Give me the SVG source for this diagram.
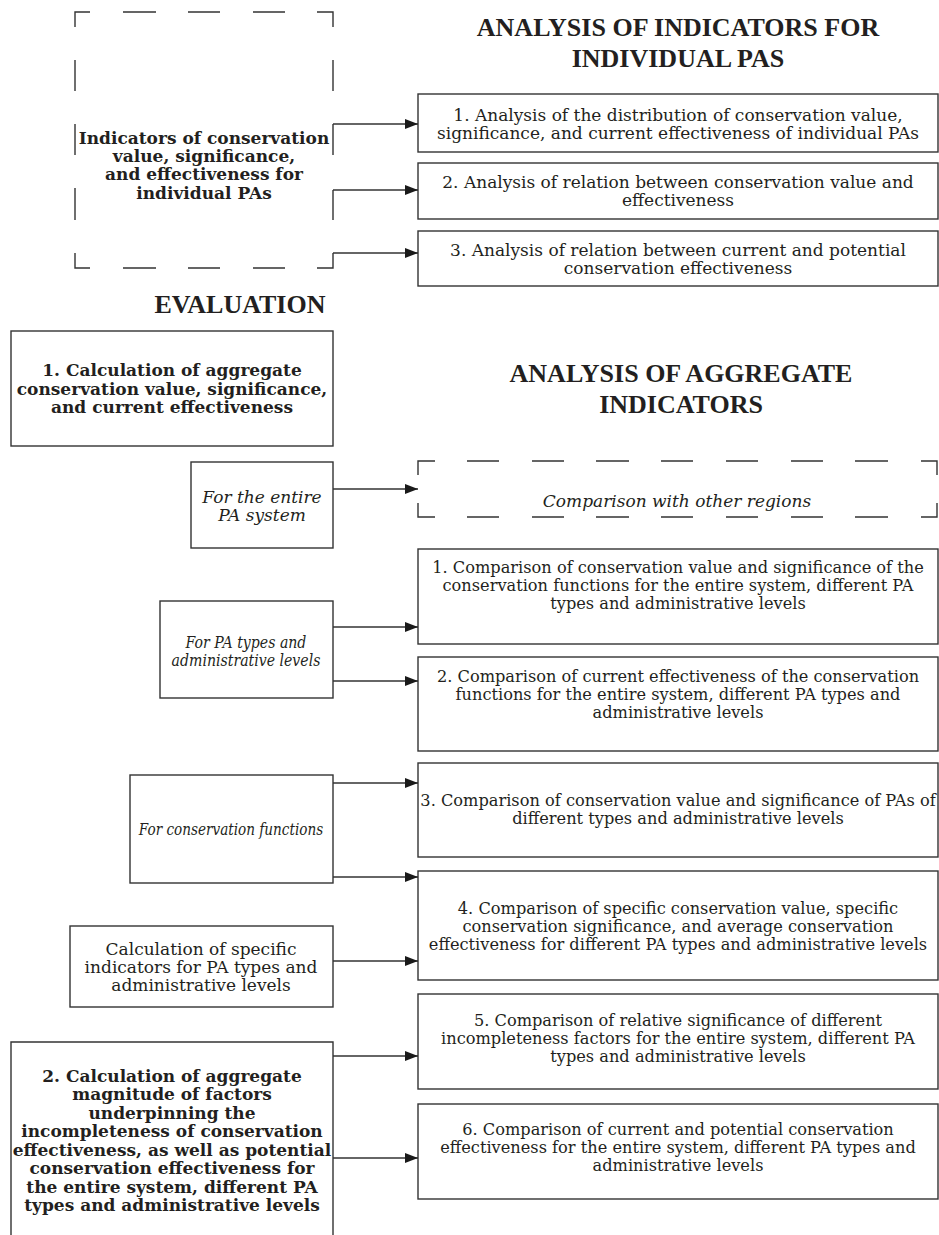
<svg xmlns="http://www.w3.org/2000/svg" width="939" height="1235" viewBox="0 0 939 1235">
  <style>
    .box { fill: #ffffff; stroke: #333333; stroke-width: 1.4; }
    .dash { fill: none; stroke: #333333; stroke-width: 1.4; }
    .edge { fill: none; stroke: #333333; stroke-width: 1.4; marker-end: url(#arrow); }
    text { fill: #231f20; text-anchor: middle; }
    .title { font-family: "Liberation Serif", "Times New Roman", serif; font-weight: bold; font-size: 26px; }
    .bold { font-family: "DejaVu Serif", "Liberation Serif", serif; font-weight: bold; font-size: 17px; }
    .reg { font-family: "DejaVu Serif", "Liberation Serif", serif; font-size: 17px; }
    .ital { font-family: "DejaVu Serif", "Liberation Serif", serif; font-style: italic; font-size: 17px; }
  </style>
  <defs>
    <marker id="arrow" markerUnits="userSpaceOnUse" markerWidth="14" markerHeight="10" refX="13" refY="5" orient="auto">
      <path d="M0,0 L13,5 L0,10 z" fill="#1a1a1a"/>
    </marker>
  </defs>

  <rect width="939" height="1235" fill="#ffffff"/>

  <!-- Section headings -->
  <g id="title-individual">
    <text class="title" x="678" y="36">ANALYSIS OF INDICATORS FOR</text>
    <text class="title" x="678" y="67">INDIVIDUAL PAS</text>
  </g>
  <g id="title-evaluation">
    <text class="title" x="240" y="313">EVALUATION</text>
  </g>
  <g id="title-aggregate">
    <text class="title" x="681" y="382">ANALYSIS OF AGGREGATE</text>
    <text class="title" x="681" y="413">INDICATORS</text>
  </g>

  <!-- Dashed source block: indicators for individual PAs -->
  <g id="node-indicators">
    <path class="dash" d="M75,27 V12 H90 M123,12 H156 M188,12 H220 M253,12 H285 M317,12 H333 V27
                          M75,60 V91 M75,124 V155 M75,188 V220 M75,253 V268 H90
                          M123,268 H156 M188,268 H220 M253,268 H285 M317,268 H333 V253
                          M333,60 V91 M333,124 V155 M333,190 V220"/>
    <text class="bold" x="204" y="144">Indicators of conservation</text>
    <text class="bold" x="204" y="162">value, significance,</text>
    <text class="bold" x="204" y="180">and effectiveness for</text>
    <text class="bold" x="204" y="199">individual PAs</text>
  </g>

  <g id="node-a1">
    <rect class="box" x="418" y="94" width="520" height="58"/>
    <text class="reg" x="678" y="121">1. Analysis of the distribution of conservation value,</text>
    <text class="reg" x="678" y="139">significance, and current effectiveness of individual PAs</text>
  </g>
  <g id="node-a2">
    <rect class="box" x="418" y="163" width="520" height="56"/>
    <text class="reg" x="678" y="188">2. Analysis of relation between conservation value and</text>
    <text class="reg" x="678" y="206">effectiveness</text>
  </g>
  <g id="node-a3">
    <rect class="box" x="418" y="231" width="520" height="55"/>
    <text class="reg" x="678" y="256">3. Analysis of relation between current and potential</text>
    <text class="reg" x="678" y="274">conservation effectiveness</text>
  </g>

  <!-- Evaluation steps -->
  <g id="node-calc1">
    <rect class="box" x="11" y="331" width="322" height="115"/>
    <text class="bold" x="172" y="376">1. Calculation of aggregate</text>
    <text class="bold" x="172" y="395">conservation value, significance,</text>
    <text class="bold" x="172" y="413">and current effectiveness</text>
  </g>

  <g id="node-entire">
    <rect class="box" x="191" y="462" width="142" height="86"/>
    <text class="ital" x="262" y="503">For the entire</text>
    <text class="ital" x="262" y="521">PA system</text>
  </g>

  <g id="node-regions">
    <path class="dash" d="M418,475 V461 H435 M467,461 H499 M532,461 H564 M596,461 H629 M661,461 H693 M726,461 H758 M791,461 H823 M855,461 H888 M921,461 H937 V475
                          M418,503 V517 H435 M467,517 H499 M532,517 H564 M596,517 H629 M661,517 H693 M726,517 H758 M791,517 H823 M855,517 H888 M921,517 H937 V503"/>
    <text class="ital" x="677" y="507">Comparison with other regions</text>
  </g>

  <g id="node-types">
    <rect class="box" x="160" y="601" width="173" height="97"/>
    <g transform="translate(246 0) scale(0.83 1)">
      <text class="ital" x="0" y="648">For PA types and</text>
      <text class="ital" x="0" y="666">administrative levels</text>
    </g>
  </g>

  <g id="node-c1">
    <rect class="box" x="418" y="549" width="520" height="95"/>
    <g transform="translate(678 0) scale(0.953 1)">
      <text class="reg" x="0" y="573">1. Comparison of conservation value and significance of the</text>
      <text class="reg" x="0" y="591">conservation functions for the entire system, different PA</text>
      <text class="reg" x="0" y="609">types and administrative levels</text>
    </g>
  </g>
  <g id="node-c2">
    <rect class="box" x="418" y="657" width="520" height="94"/>
    <g transform="translate(678 0) scale(0.953 1)">
      <text class="reg" x="0" y="682">2. Comparison of current effectiveness of the conservation</text>
      <text class="reg" x="0" y="700">functions for the entire system, different PA types and</text>
      <text class="reg" x="0" y="718">administrative levels</text>
    </g>
  </g>

  <g id="node-functions">
    <rect class="box" x="130" y="775" width="203" height="108"/>
    <g transform="translate(231 0) scale(0.8 1)">
      <text class="ital" x="0" y="835">For conservation functions</text>
    </g>
  </g>

  <g id="node-c3">
    <rect class="box" x="418" y="763" width="520" height="94"/>
    <g transform="translate(678 0) scale(0.953 1)">
      <text class="reg" x="0" y="806">3. Comparison of conservation value and significance of PAs of</text>
      <text class="reg" x="0" y="824">different types and administrative levels</text>
    </g>
  </g>
  <g id="node-c4">
    <rect class="box" x="418" y="871" width="520" height="109"/>
    <g transform="translate(678 0) scale(0.953 1)">
      <text class="reg" x="0" y="914">4. Comparison of specific conservation value, specific</text>
      <text class="reg" x="0" y="932">conservation significance, and average conservation</text>
      <text class="reg" x="0" y="950">effectiveness for different PA types and administrative levels</text>
    </g>
  </g>

  <g id="node-specific">
    <rect class="box" x="70" y="926" width="263" height="81"/>
    <text class="reg" x="201" y="955">Calculation of specific</text>
    <text class="reg" x="201" y="973">indicators for PA types and</text>
    <text class="reg" x="201" y="991">administrative levels</text>
  </g>

  <g id="node-calc2">
    <path class="box" d="M11,1240 V1042 H333 V1240"/>
    <text class="bold" x="172" y="1082">2. Calculation of aggregate</text>
    <text class="bold" x="172" y="1100">magnitude of factors</text>
    <text class="bold" x="172" y="1119">underpinning the</text>
    <text class="bold" x="172" y="1137">incompleteness of conservation</text>
    <text class="bold" x="172" y="1156">effectiveness, as well as potential</text>
    <text class="bold" x="172" y="1174">conservation effectiveness for</text>
    <text class="bold" x="172" y="1193">the entire system, different PA</text>
    <text class="bold" x="172" y="1211">types and administrative levels</text>
  </g>

  <g id="node-c5">
    <rect class="box" x="418" y="994" width="520" height="95"/>
    <g transform="translate(678 0) scale(0.953 1)">
      <text class="reg" x="0" y="1026">5. Comparison of relative significance of different</text>
      <text class="reg" x="0" y="1044">incompleteness factors for the entire system, different PA</text>
      <text class="reg" x="0" y="1062">types and administrative levels</text>
    </g>
  </g>
  <g id="node-c6">
    <rect class="box" x="418" y="1104" width="520" height="95"/>
    <g transform="translate(678 0) scale(0.953 1)">
      <text class="reg" x="0" y="1135">6. Comparison of current and potential conservation</text>
      <text class="reg" x="0" y="1153">effectiveness for the entire system, different PA types and</text>
      <text class="reg" x="0" y="1171">administrative levels</text>
    </g>
  </g>

  <!-- Connectors -->
  <g id="connectors">
    <path class="edge" d="M333,124 H418"/>
    <path class="edge" d="M333,190 H418"/>
    <path class="edge" d="M333,253 H418"/>
    <path class="edge" d="M333,489 H418"/>
    <path class="edge" d="M333,627 H418"/>
    <path class="edge" d="M333,681 H418"/>
    <path class="edge" d="M333,783 H418"/>
    <path class="edge" d="M333,877 H418"/>
    <path class="edge" d="M333,961 H418"/>
    <path class="edge" d="M333,1056 H418"/>
    <path class="edge" d="M333,1158 H418"/>
  </g>
</svg>
